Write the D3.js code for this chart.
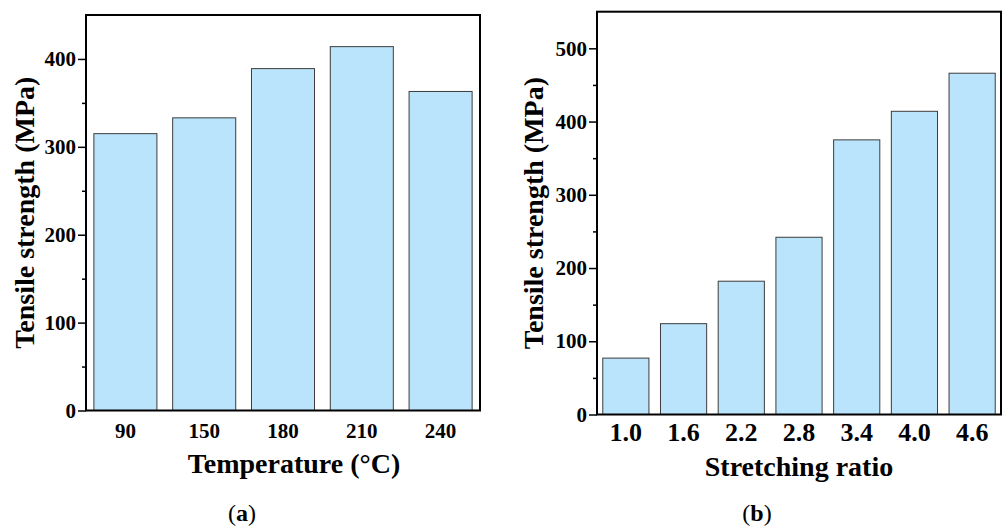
<!DOCTYPE html>
<html>
<head>
<meta charset="utf-8">
<script src="https://cdn.jsdelivr.net/npm/d3@7"></script>
<style>
  body { margin: 0; background: #fff; }
  text { font-family: "Liberation Serif", "Times New Roman", serif; font-weight: bold; fill: #000; }
  .cap { font-weight: normal; }
</style>
</head>
<body>
<svg></svg>
<script>
var width = 1006;
var height = 527;

// panel (a)
var tempLabels = ["90", "150", "180", "210", "240"];
var tempValues = [315, 333, 389, 414, 363];
var tempTicks = [0, 100, 200, 300, 400];

// panel (b)
var ratioLabels = ["1.0", "1.6", "2.2", "2.8", "3.4", "4.0", "4.6"];
var ratioValues = [77, 124, 182, 242, 375, 414, 466];
var ratioTicks = [0, 100, 200, 300, 400, 500];

var svg = d3.select("svg")
    .attr("width", width)
    .attr("height", height);

function panel(opt) {
    var g = svg.append("g");
    var x = d3.scaleBand()
        .domain(opt.labels)
        .range([opt.left, opt.right])
        .paddingInner(0.2)
        .paddingOuter(0.1);
    var y = d3.scaleLinear()
        .domain([0, opt.max])
        .range([opt.bottom, opt.top]);

    g.selectAll("rect.bar")
        .data(opt.values)
        .enter()
        .append("rect")
        .attr("class", "bar")
        .attr("x", function(d, i) { return x(opt.labels[i]); })
        .attr("y", function(d) { return y(d); })
        .attr("width", x.bandwidth())
        .attr("height", function(d) { return y(0) - y(d); })
        .style("fill", "#bae4fb")
        .style("stroke", "#3c3c3c")
        .style("stroke-width", 1);

    // minor ticks
    var minor = d3.range(50, opt.max, 100);
    g.append("g")
        .attr("transform", "translate(" + opt.left + ",0)")
        .call(d3.axisLeft(y).tickValues(minor).tickSize(4).tickFormat(""))
        .call(function(a) {
            a.select(".domain").remove();
            a.selectAll("line").style("stroke", "#000").style("stroke-width", 1.5);
        });

    // major ticks
    g.append("g")
        .attr("transform", "translate(" + opt.left + ",0)")
        .call(d3.axisLeft(y).tickValues(opt.ticks).tickSize(8).tickPadding(2))
        .call(function(a) {
            a.select(".domain").remove();
            a.selectAll("line").style("stroke", "#000").style("stroke-width", 1.5);
            a.selectAll("text")
                .style("font-size", "21px")
                .style("font-family", "'Liberation Serif', 'Times New Roman', serif")
                .style("font-weight", "bold");
        });

    // x labels
    g.append("g")
        .attr("transform", "translate(0," + opt.bottom + ")")
        .call(d3.axisBottom(x).tickSize(0).tickPadding(0))
        .call(function(a) {
            a.select(".domain").remove();
            a.selectAll("text")
                .attr("dy", null)
                .attr("y", opt.xLabelBase - opt.bottom)
                .style("font-size", opt.xLabelSize)
                .style("font-family", "'Liberation Serif', 'Times New Roman', serif")
                .style("font-weight", "bold");
        });

    // frame
    g.append("rect")
        .attr("x", opt.left)
        .attr("y", opt.top)
        .attr("width", opt.right - opt.left)
        .attr("height", opt.bottom - opt.top)
        .style("fill", "none")
        .style("stroke", "#000")
        .style("stroke-width", 2);

    g.append("text")
        .attr("transform", "translate(" + opt.yTitleX + "," + (opt.top + opt.bottom) / 2 + ") rotate(-90)")
        .attr("text-anchor", "middle")
        .style("font-size", "28px")
        .text("Tensile strength (MPa)");

    g.append("text")
        .attr("x", opt.xTitleX)
        .attr("y", opt.xTitleBase)
        .attr("text-anchor", "middle")
        .style("font-size", "28px")
        .text(opt.xTitle);

    var cap = g.append("text")
        .attr("class", "cap")
        .attr("x", opt.capX)
        .attr("y", 521)
        .attr("text-anchor", "middle")
        .style("font-size", "24px");
    cap.append("tspan").text("(");
    cap.append("tspan").style("font-weight", "bold").text(opt.cap);
    cap.append("tspan").text(")");
}

panel({
    labels: tempLabels, values: tempValues, ticks: tempTicks, max: 450,
    left: 86, right: 480, top: 15, bottom: 410.5,
    xLabelBase: 438, xLabelSize: "21px",
    yTitleX: 34, xTitle: "Temperature (\u00B0C)", xTitleX: 294, xTitleBase: 473,
    cap: "a", capX: 242
});

panel({
    labels: ratioLabels, values: ratioValues, ticks: ratioTicks, max: 550,
    left: 597, right: 1001, top: 11.7, bottom: 414.5,
    xLabelBase: 441, xLabelSize: "26px",
    yTitleX: 543, xTitle: "Stretching ratio", xTitleX: 799, xTitleBase: 476,
    cap: "b", capX: 757
});
</script>
</body>
</html>
